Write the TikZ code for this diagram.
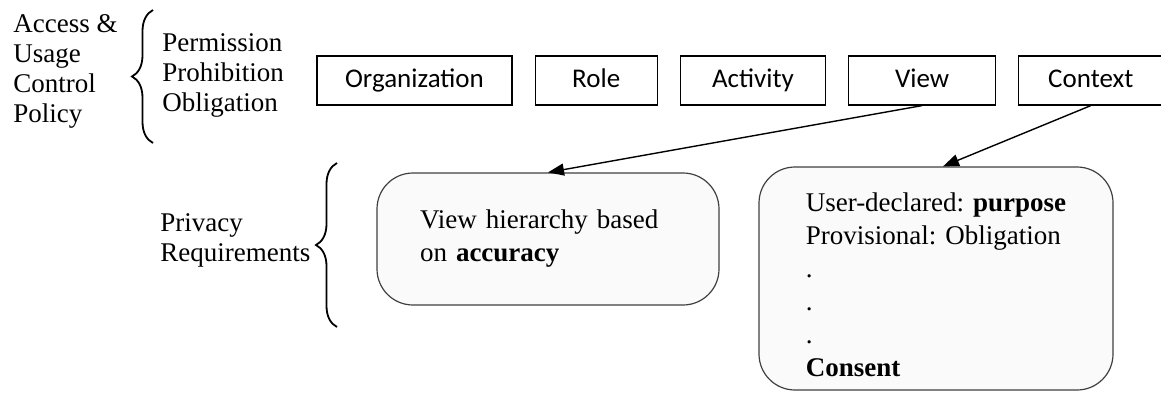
\documentclass[tikz,border=0pt]{standalone}
\usepackage{fontspec}
\setmainfont{Liberation Serif}
\newfontfamily\boxfont{Carlito}
\usepackage{tikz}
\usetikzlibrary{positioning,arrows.meta,decorations.pathreplacing}

\begin{document}
\begin{tikzpicture}[x=0.5pt,y=-0.5pt,
		every node/.style={font=\fontsize{13.5}{15}\selectfont},
		attr/.style={shape=rectangle,draw,line width=0.6pt,minimum height=24.5pt,inner sep=0pt,text height=9.3pt,text depth=2.6pt,font=\boxfont\fontsize{13.5}{15}\selectfont},
		lbl/.style={anchor=north west,inner sep=0pt,align=left},
		req/.style={shape=rectangle,rounded corners=18pt,draw=black!75,fill=black!2,line width=0.6pt,align=left,inner ysep=0pt,font=\fontsize{13.5}{16.5}\selectfont},
		curly/.style={decorate,decoration={brace,amplitude=10.5pt},line width=0.9pt},
		arr/.style={-{Triangle[length=8pt,width=6pt]},line width=0.7pt},
		node distance=11pt]
		\useasboundingbox (0,0) rectangle (1161,392);
		\begin{scope}
			% policy side
			\node(acc) [lbl] at (13,14.5) {Access \&\\Usage\\Control\\Policy};
			\node(perm) [lbl] at (162,33.5) {Permission\\Prohibition\\Obligation};
			\draw[curly] (153,143) -- (153,10);
			% OrBAC entities
			\node(org) [attr,minimum width=97.5pt] at (414.5,80.5) {Organization};
			\node(role) [attr,right=of org,minimum width=61pt] {Role};
			\node(act) [attr,right=of role,minimum width=72.5pt] {Activity};
			\node(view) [attr,right=of act,minimum width=73.5pt] {View};
			\node(ctx) [attr,right=of view,minimum width=72pt] {Context};
			% privacy side
			\node(priv) [lbl] at (160,213.5) {Privacy\\Requirements};
			\draw[curly] (337,327) -- (337,163);
			\node(pbox) [req,text width=128pt,inner xsep=21.5pt,minimum height=66pt] at (548,239)
				{View hierarchy based\\on \textbf{accuracy}};
			\node(cbox) [req,minimum width=177pt,minimum height=111.5pt] at (936,278.5)
				{\rule{0pt}{16pt}User-declared: \textbf{purpose}\\Provisional: Obligation\\.\\.\\.\\\textbf{Consent}};
			\draw[arr] (view.south) -- (pbox.north);
			\draw[arr] (ctx.south) -- ([xshift=3.5pt]cbox.north);
		\end{scope}
	\end{tikzpicture}
\end{document}
